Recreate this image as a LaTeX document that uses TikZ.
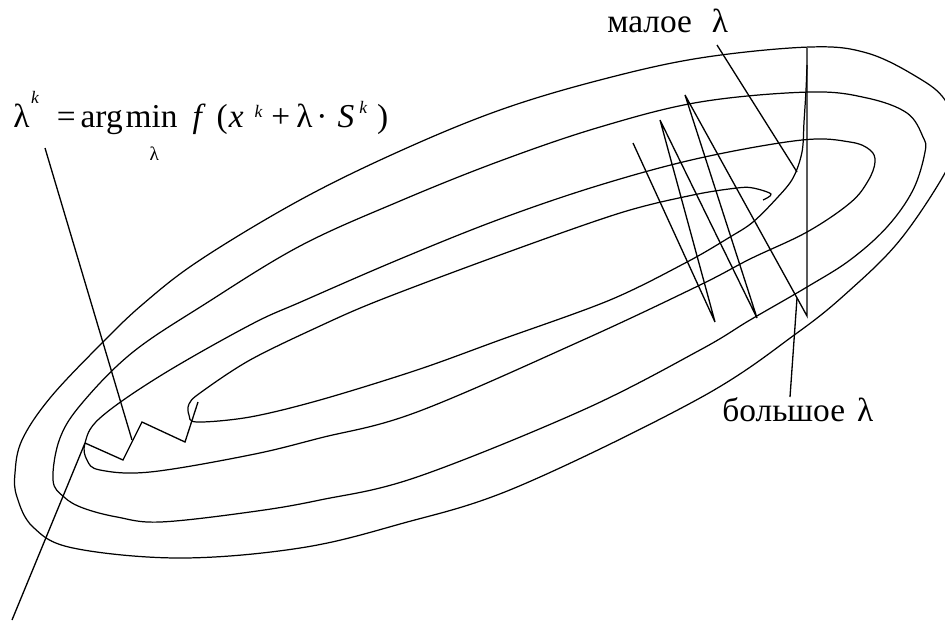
\documentclass[tikz,border=0pt]{standalone}
\usepackage{fontspec}
\setmainfont{Liberation Serif}
\newdimen\pxu \pxu=0.02cm
\newcommand\mysup[1]{\raisebox{#1\pxu}{\fontsize{10}{10}\selectfont\itshape k}}
\begin{document}
\begin{tikzpicture}[x=0.02cm,y=-0.02cm,
  contour/.style={line width=0.7pt, line join=round},
  ray/.style={line width=0.75pt, line join=miter},
  lbl/.style={inner sep=0pt, anchor=base west, font=\fontsize{19}{22}\selectfont}]
\useasboundingbox (0,0) rectangle (945,623);
\begin{scope}
\clip (0,0) rectangle (945,623);
% outer contour
\draw[contour] plot[smooth cycle, tension=0.6] coordinates {
 (15,473) (22,440) (50,398) (100,345) (143,304) (200,260) (300,200) (400,151)
 (500,110) (600,80) (700,58) (810,47) (867,53) (917,77) (945,100) (958,137)
 (945,173) (900,240) (850,290) (797,333) (700,398) (517,487) (400,524)
 (300,548) (180,558) (73,548) (33,527) (17,497)};
% second contour
\draw[contour] plot[smooth cycle, tension=0.6] coordinates {
 (53,480) (60,438) (83,402) (133,352) (205,304) (300,246) (400,201) (500,161)
 (600,127) (700,102) (810,92) (867,98) (907,113) (923,137) (925,152) (913,190)
 (887,227) (850,260) (807,287) (750,320) (700,350) (583,410) (417,477)
 (320,500) (250,512) (160,522) (117,517) (83,508) (64,497)};
% third contour
\draw[contour] plot[smooth cycle, tension=0.6] coordinates {
 (85,443) (100,418) (160,376) (250,325) (303,301) (400,259) (500,219) (600,185)
 (700,158) (802,140) (850,142) (870,150) (875,162) (868,181) (850,203)
 (807,232) (750,259) (700,285) (583,340) (417,412) (320,438) (250,455)
 (150,472) (100,470) (87,460)};
% innermost contour, continued by the path of small steps
\draw[contour] plot[smooth, tension=0.55] coordinates {
 (763,200) (771,194) (753,188) (737,188) (693,195) (620,213) (500,255) (380,300)
 (320,326) (250,360) (200,393) (189,404) (189,415) (197,422) (250,417)
 (320,400) (417,370) (500,340) (610,300) (687,262) (730,237) (753,222)
 (777,198) (793,178) (802,152) (804,122) (806,90) (807,65)};
\end{scope}
% labels
\node[lbl] (formula) at (13,127) {λ\kern1.5\pxu\mysup{24}\kern18\pxu=\kern5\pxu arg\kern3\pxu\makebox[0pt][l]{\kern24\pxu\raisebox{-33\pxu}{\fontsize{11}{11}\selectfont λ}}min\kern15\pxu\textit{f}\kern11\pxu(\kern1\pxu\textit{x}\kern11\pxu\mysup{10}\kern9\pxu+\kern6\pxu λ\kern4\pxu·\kern10\pxu\textit{S}\kern5\pxu\mysup{14}\kern10\pxu)};
\node[lbl] (small) at (607,32) {малое\hspace{20\pxu}λ};
\node[lbl] (big) at (722,421) {большое\hspace{12\pxu}λ};
% named points
\coordinate (fs) at (45,148);  \coordinate (fe) at (132,440);
\coordinate (ss) at (717,45);  \coordinate (se) at (797,172);
\coordinate (bs) at (790,397); \coordinate (be) at (797,298);
\coordinate (x0) at (85,443);  \coordinate (x0e) at (12,620);
\coordinate (a1) at (123,460); \coordinate (a2) at (142,422);
\coordinate (a3) at (185,442); \coordinate (a4) at (198,402);
\coordinate (b0) at (633,143); \coordinate (b1) at (715,322);
\coordinate (b2) at (660,120); \coordinate (b3) at (757,318);
\coordinate (b4) at (685,95);  \coordinate (b5) at (807,316);
\coordinate (b6) at (807,48);
% zigzag paths
\draw[ray] (x0) -- (a1) -- (a2) -- (a3) -- (a4);
\draw[ray] (b0) -- (b1) -- (b2) -- (b3) -- (b4) -- (b5) -- (b6);
% leaders
\draw[ray] (fs) -- (fe);
\draw[ray] (ss) -- (se);
\draw[ray] (bs) -- (be);
\draw[ray] (x0) -- (x0e);
\end{tikzpicture}
\end{document}
